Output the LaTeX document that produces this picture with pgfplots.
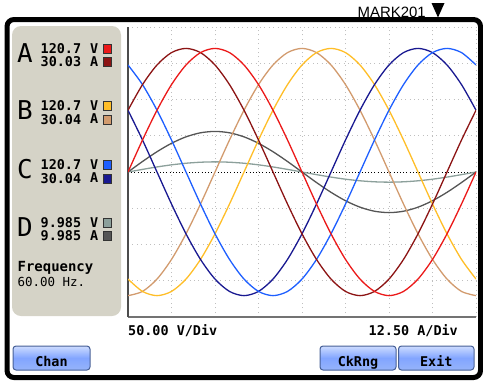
\documentclass[border=0pt]{standalone}
\usepackage{pgfplots}
\pgfplotsset{compat=1.18}
\usepackage{pgfplotstable}
\usepackage{fontspec}
\setmainfont{DejaVu Sans}
\newfontfamily\mono{DejaVu Sans Mono}
\newfontfamily\arial{Liberation Sans}
\definecolor{vA}{RGB}{235,25,25}
\definecolor{iA}{RGB}{140,20,20}
\definecolor{vB}{RGB}{255,190,40}
\definecolor{iB}{RGB}{210,155,110}
\definecolor{vC}{RGB}{30,95,255}
\definecolor{iC}{RGB}{25,25,145}
\definecolor{vD}{RGB}{140,160,155}
\definecolor{iD}{RGB}{85,85,85}
\definecolor{panel}{RGB}{213,211,199}
\definecolor{btnTop}{RGB}{205,220,255}
\definecolor{btnMid}{RGB}{130,165,255}
\definecolor{btnBot}{RGB}{150,180,250}
\definecolor{btnEdge}{RGB}{70,95,150}
\newcommand{\fs}[1]{\fontsize{#1}{#1}\selectfont}
\pgfplotstableread{
x VA IA VB IB VC IC DV DI
0 0 1.705 -2.953 -3.410 2.953 1.705 0 0
0.3333 0.883 2.411 -3.294 -3.294 2.411 0.883 0.072 0.290
0.6667 1.705 2.953 -3.410 -2.953 1.705 0 0.140 0.560
1 2.411 3.294 -3.294 -2.411 0.883 -0.883 0.198 0.792
1.3333 2.953 3.410 -2.953 -1.705 0 -1.705 0.242 0.970
1.6667 3.294 3.294 -2.411 -0.883 -0.883 -2.411 0.270 1.082
2 3.410 2.953 -1.705 0 -1.705 -2.953 0.280 1.120
2.3333 3.294 2.411 -0.883 0.883 -2.411 -3.294 0.270 1.082
2.6667 2.953 1.705 0 1.705 -2.953 -3.410 0.242 0.970
3 2.411 0.883 0.883 2.411 -3.294 -3.294 0.198 0.792
3.3333 1.705 0 1.705 2.953 -3.410 -2.953 0.140 0.560
3.6667 0.883 -0.883 2.411 3.294 -3.294 -2.411 0.072 0.290
4 0 -1.705 2.953 3.410 -2.953 -1.705 0 0
4.3333 -0.883 -2.411 3.294 3.294 -2.411 -0.883 -0.072 -0.290
4.6667 -1.705 -2.953 3.410 2.953 -1.705 0 -0.140 -0.560
5 -2.411 -3.294 3.294 2.411 -0.883 0.883 -0.198 -0.792
5.3333 -2.953 -3.410 2.953 1.705 0 1.705 -0.242 -0.970
5.6667 -3.294 -3.294 2.411 0.883 0.883 2.411 -0.270 -1.082
6 -3.410 -2.953 1.705 0 1.705 2.953 -0.280 -1.120
6.3333 -3.294 -2.411 0.883 -0.883 2.411 3.294 -0.270 -1.082
6.6667 -2.953 -1.705 0 -1.705 2.953 3.410 -0.242 -0.970
7 -2.411 -0.883 -0.883 -2.411 3.294 3.294 -0.198 -0.792
7.3333 -1.705 0 -1.705 -2.953 3.410 2.953 -0.140 -0.560
7.6667 -0.883 0.883 -2.411 -3.294 3.294 2.411 -0.072 -0.290
8 0 1.705 -2.953 -3.410 2.953 1.705 0 0
}\wavetable
\begin{document}
\begin{tikzpicture}
\begin{scope}[x=1bp,y=-1bp]
\useasboundingbox (0,0) rectangle (483,383);
% panel
\fill[panel, rounded corners=9bp] (12,26) rectangle (121,316);
\end{scope}
\begin{axis}[
  at={(128bp,-317bp)}, anchor=south west,
  scale only axis, width=348bp, height=290bp,
  xmin=0, xmax=8, ymin=-4, ymax=4,
  xtick={1,2,3,4,5,6,7,8}, ytick={-3,-2,-1,1,2,3,4},
  xticklabels={}, yticklabels={},
  major tick length=0pt, tick style={draw=none},
  grid=major,
  major grid style={draw=black!25, line width=1bp, dash pattern=on 1bp off 3.4bp},
  axis x line*=bottom, axis y line*=left,
  x axis line style={-, draw=black!55, line width=2bp},
  y axis line style={-, draw=black!70, line width=1.6bp},
  clip=true,
  every axis plot/.append style={line width=1.3bp, smooth, no markers},
]
\addplot[black, line width=1bp, dash pattern=on 1bp off 2.2bp, sharp plot] coordinates {(0,0) (8,0)};
\addplot[vD] table[x=x, y=DV] {\wavetable};
\addplot[iD] table[x=x, y=DI] {\wavetable};
\addplot[iB] table[x=x, y=IB] {\wavetable};
\addplot[vB] table[x=x, y=VB] {\wavetable};
\addplot[iC] table[x=x, y=IC] {\wavetable};
\addplot[vC] table[x=x, y=VC] {\wavetable};
\addplot[iA] table[x=x, y=IA] {\wavetable};
\addplot[vA] table[x=x, y=VA] {\wavetable};
\end{axis}
\begin{scope}[x=1bp,y=-1bp, tx/.style={anchor=base west, inner sep=0pt}]
% frame
\draw[black, line width=5bp, rounded corners=7bp] (7,19.5) rectangle (480.5,377.5);
% marker
\node[anchor=base east, inner sep=0pt] at (426,17.5) {\arial\fs{15}MARK201};
\fill[black] (431.5,3) -- (444.5,3) -- (438,17.5) -- cycle;
% channel texts
\foreach \L/\yb/\va/\ia/\cv/\ci in {A/62/120.7/30.03/vA/iA, B/119.5/120.7/30.04/vB/iB, C/178.5/120.7/30.04/vC/iC, D/236/9.985/9.985/vD/iD}{
  \node[tx] at (17,\yb) {\mono\fs{26}\L};
  \node[anchor=north west, inner sep=0pt, align=left, font=\mono\bfseries\fs{13.5}] at (40.5,\yb-19) {\va\\\ia};
  \node[anchor=north west, inner sep=0pt, align=left, font=\mono\bfseries\fs{13.5}] at (90,\yb-19) {V\\A};
  \filldraw[fill=\cv, draw=black!80, line width=0.7bp] (103.5,\yb-18) rectangle (111.5,\yb-9);
  \filldraw[fill=\ci, draw=black!80, line width=0.7bp] (103.5,\yb-4.5) rectangle (111.5,\yb+4.5);
}
\node[anchor=north west, inner sep=0pt, align=left] at (17.5,261.5) {\mono\bfseries\fs{14}Frequency\\[1bp]\mono\fs{12.5}60.00 Hz.};
% scale labels
\node[tx] at (128,335) {\mono\bfseries\fs{13.5}50.00 V/Div};
\node[anchor=base east, inner sep=0pt] at (458,335) {\mono\bfseries\fs{13.5}12.50 A/Div};
% buttons
\foreach \xa/\xb/\t in {13/90/Chan, 320/396/CkRng, 398.5/474/Exit}{
  \shade[top color=btnTop, bottom color=btnBot, middle color=btnMid, rounded corners=3bp] (\xa,346) rectangle (\xb,370);
  \draw[btnEdge, line width=1bp, rounded corners=3bp] (\xa,346) rectangle (\xb,370);
  \node[anchor=base, inner sep=0pt] at ({(\xa+\xb)/2},366.5) {\mono\bfseries\fs{13.5}\t};
}
\end{scope}
\end{tikzpicture}
\end{document}
